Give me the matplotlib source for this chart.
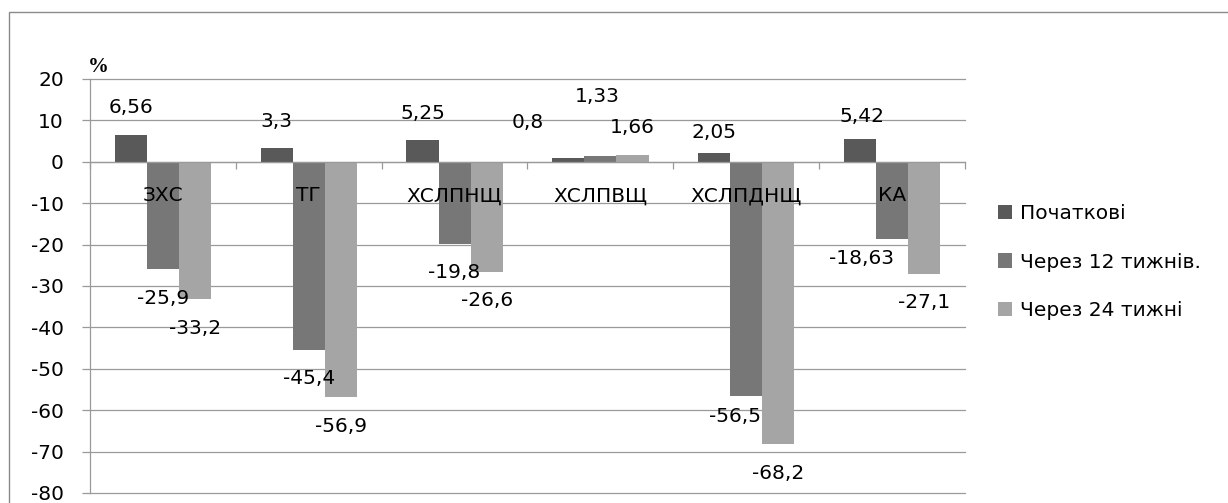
import matplotlib
matplotlib.use("Agg")
import matplotlib.pyplot as plt
from matplotlib.patches import Rectangle
import numpy as np

categories = ["ЗХС", "ТГ", "ХСЛПНЩ", "ХСЛПВЩ", "ХСЛПДНЩ", "КА"]
series_names = ["Початкові", "Через 12 тижнів.", "Через 24 тижні"]
initial = [6.56, 3.3, 5.25, 0.8, 2.05, 5.42]
week12 = [-25.9, -45.4, -19.8, 1.33, -56.5, -18.63]
week24 = [-33.2, -56.9, -26.6, 1.66, -68.2, -27.1]
y_ticks = list(range(-80, 21, 10))

colors = ["#595959", "#777777", "#a5a5a5"]
grid_color = "#9a9a9a"
font_size = 14.5

# label offsets from the bar end, in pixels (x, y up); some were nudged by hand
label_nudge = {
    (0, 3): (-41, 36),
    (1, 3): (-3, 60),
    (0, 4): (0, 21),
    (0, 5): (2, 23),
    (1, 4): (-11, -21),
    (1, 5): (-31, -20),
}

plt.rcParams["font.family"] = ["DejaVu Sans"]

fig = plt.figure(figsize=(12.28, 5.03), dpi=100)
ax = fig.add_axes([90 / 1228, 1 - 493 / 503, 875 / 1228, 414 / 503])

# outer chart frame
fig.patches.append(Rectangle((9 / 1228, -0.1), 1.2, 1 - 12 / 503 + 0.1,
                             transform=fig.transFigure, fill=False,
                             ec="#8a8a8a", lw=1.0, clip_on=False))

x = np.arange(len(categories))
width = 0.22
all_series = [initial, week12, week24]
for j, (vals, name) in enumerate(zip(all_series, series_names)):
    pos = x + (j - 1) * width
    ax.bar(pos, vals, width, color=colors[j], label=name, zorder=2)
    for i, (px, v) in enumerate(zip(pos, vals)):
        dx, dy = label_nudge.get((j, i), (0, 27 if v >= 0 else -29))
        ax.annotate(f"{v:g}".replace(".", ","), (px, v), xytext=(dx, dy),
                    textcoords="offset pixels", ha="center", va="center",
                    fontsize=font_size, zorder=4)

# category names sit just under the zero line
for i, name in enumerate(categories):
    ax.annotate(name, (i, 0), xytext=(0, -34), textcoords="offset pixels",
                ha="center", va="center", fontsize=font_size, zorder=4)

ax.set_xlim(-0.5, len(categories) - 0.5)
ax.set_ylim(-80, 20)
ax.set_yticks(y_ticks)
ax.set_yticklabels([str(t) for t in y_ticks])
ax.set_xticks(np.arange(len(categories) + 1) - 0.5)
ax.set_xticklabels([])

ax.spines["top"].set_visible(False)
ax.spines["right"].set_visible(False)
ax.spines["bottom"].set_position(("data", 0))
for s in ("left", "bottom"):
    ax.spines[s].set_color(grid_color)
    ax.spines[s].set_linewidth(0.9)

ax.tick_params(axis="y", direction="out", length=5.8, width=0.9,
               color=grid_color, pad=13, labelsize=font_size)
ax.tick_params(axis="x", direction="out", length=5, width=0.9,
               color=grid_color)
ax.yaxis.grid(True, color=grid_color, lw=0.9)
ax.set_axisbelow(True)
for gl in ax.get_ygridlines():
    gl.set_clip_on(False)

ax.annotate("%", (0, 1), xycoords="axes fraction", xytext=(8, 12),
            textcoords="offset pixels", ha="center", va="center",
            fontsize=15, fontweight="bold",
            family=["Liberation Serif", "DejaVu Serif"])

ax.legend(loc="center left", bbox_to_anchor=(998 / 1228, 1 - 262 / 503),
          bbox_transform=fig.transFigure, frameon=False, fontsize=font_size,
          handlelength=0.7, handleheight=0.7, handletextpad=0.4,
          labelspacing=1.45, borderpad=0, borderaxespad=0)

fig.savefig("out.png", dpi=100)
